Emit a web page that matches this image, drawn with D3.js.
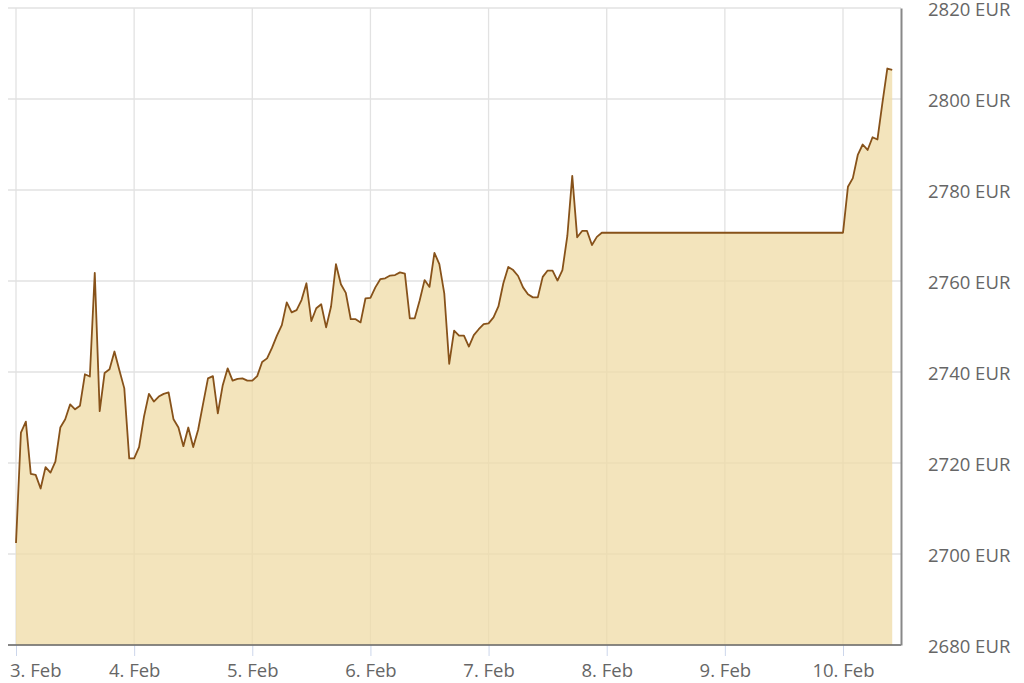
<!DOCTYPE html>
<html>
<head>
<meta charset="utf-8">
<script src="https://cdn.jsdelivr.net/npm/d3@7"></script>
<style>
  body { margin: 0; background: #fff; }
  svg { display: block; font-family: "Open Sans", sans-serif; }
</style>
</head>
<body>
<svg id="chart" width="1024" height="683"></svg>
<script>
// hours counted from 3 Feb 00:00, gold price in EUR
const hours = [
  0, 1, 2, 3, 4, 5, 6, 7, 8, 9, 10, 11, 12, 13, 14, 15, 16, 17, 18, 19, 20, 21, 22, 23,
  24, 25, 26, 27, 28, 29, 30, 31, 32, 33, 34, 35, 36, 37, 38, 39, 40, 41, 42, 43, 44, 45, 46, 47,
  48, 49, 50, 51, 52, 53, 54, 55, 56, 57, 58, 59, 60, 61, 62, 63, 64, 65, 66, 67, 68, 69, 70, 71,
  72, 73, 74, 75, 76, 77, 78, 79, 80, 81, 82, 83, 84, 85, 86, 87, 88, 89, 90, 91, 92, 93, 94, 95,
  96, 97, 98, 99, 100, 101, 102, 103, 104, 105, 106, 107, 108, 109, 110, 111, 112, 113, 114, 115, 116, 117, 118, 119,
  168, 169, 170, 171, 172, 173, 174, 175, 176, 177, 178
];
const prices = [
  2702.4, 2726.7, 2729.1, 2717.6, 2717.4, 2714.4, 2719.1, 2717.9, 2720.3, 2727.8, 2729.6, 2732.9,
  2731.8, 2732.6, 2739.5, 2739.0, 2761.8, 2731.4, 2739.8, 2740.6, 2744.5, 2740.4, 2736.4, 2721.0,
  2721.0, 2723.5, 2730.2, 2735.2, 2733.5, 2734.6, 2735.2, 2735.5, 2729.6, 2727.8, 2723.7, 2727.8,
  2723.5, 2727.3, 2733.0, 2738.6, 2739.1, 2730.9, 2737.1, 2740.8, 2738.1, 2738.5, 2738.6, 2738.1,
  2738.1, 2739.1, 2742.2, 2743.0, 2745.3, 2748.0, 2750.3, 2755.3, 2753.1, 2753.6, 2755.8, 2759.5,
  2751.2, 2754.0, 2754.9, 2749.8, 2754.4, 2763.7, 2759.3, 2757.4, 2751.6, 2751.6, 2750.9, 2756.2,
  2756.3, 2758.6, 2760.4, 2760.6, 2761.2, 2761.3, 2761.9, 2761.6, 2751.8, 2751.8, 2755.7, 2760.2,
  2758.7, 2766.2, 2763.7, 2757.3, 2741.8, 2749.1, 2748.0, 2748.0, 2745.6, 2748.1, 2749.4, 2750.5,
  2750.7, 2752.0, 2754.4, 2759.5, 2763.1, 2762.4, 2761.1, 2758.6, 2757.1, 2756.4, 2756.4, 2760.9,
  2762.3, 2762.3, 2760.1, 2762.4, 2769.9, 2783.1, 2769.6, 2771.0, 2771.0, 2767.9, 2769.7, 2770.6,
  2770.6, 2780.7, 2782.6, 2787.7, 2790.0, 2788.8, 2791.6, 2791.1, 2799.1, 2806.7, 2806.4
];
const yTicks = [2680, 2700, 2720, 2740, 2760, 2780, 2800, 2820];

const start = Date.UTC(2025, 1, 3);
const data = hours.map((h, i) => ({date: new Date(start + h * 3600e3), price: prices[i]}));

const plot = {left: 8, right: 901, top: 8, bottom: 645};

const svg = d3.select("#chart");

const x = d3.scaleUtc()
  .domain([new Date(start), new Date(Date.UTC(2025, 1, 10))])
  .range([16, 843]);

const y = d3.scaleLinear()
  .domain([2680, 2820])
  .range([plot.bottom, plot.top]);

const days = d3.utcDay.range(new Date(start), new Date(Date.UTC(2025, 1, 11)));

// grid
svg.append("g")
  .selectAll("line")
  .data(yTicks)
  .join("line")
  .attr("x1", plot.left)
  .attr("x2", plot.right)
  .attr("y1", d => y(d))
  .attr("y2", d => y(d))
  .attr("stroke", "#e2e2e2")
  .attr("stroke-width", 1.3);

svg.append("g")
  .selectAll("line")
  .data(days)
  .join("line")
  .attr("x1", d => x(d))
  .attr("x2", d => x(d))
  .attr("y1", plot.top)
  .attr("y2", plot.bottom)
  .attr("stroke", "#e2e2e2")
  .attr("stroke-width", 1.3);

// area + line
const area = d3.area()
  .x(d => x(d.date))
  .y0(y(2680))
  .y1(d => y(d.price));

const line = d3.line()
  .x(d => x(d.date))
  .y(d => y(d.price));

svg.append("path")
  .datum(data)
  .attr("d", area)
  .attr("fill", "#efdba6")
  .attr("fill-opacity", 0.75);

svg.append("path")
  .datum(data)
  .attr("d", line)
  .attr("fill", "none")
  .attr("stroke", "#87521a")
  .attr("stroke-width", 1.8)
  .attr("stroke-linejoin", "round");

// x axis
const xAxis = svg.append("g")
  .attr("transform", `translate(0, ${plot.bottom})`)
  .call(d3.axisBottom(x)
    .tickValues(days)
    .tickFormat(d3.utcFormat("%-d. %b"))
    .tickSize(11)
    .tickSizeOuter(0)
    .tickPadding(8));

xAxis.select(".domain").remove();
xAxis.selectAll(".tick line").attr("stroke", "#ccd6eb");
xAxis.selectAll(".tick text")
  .attr("fill", "#666")
  .attr("font-size", 18.5)
  .attr("font-family", "Open Sans, sans-serif");

// keep the first label inside the picture
xAxis.selectAll(".tick text").each(function() {
  const tick = this.parentNode.getAttribute("transform");
  const tx = +tick.match(/translate\(([-\d.]+)/)[1];
  const w = this.getComputedTextLength();
  if (tx - w / 2 < 10) d3.select(this).attr("x", 10 - tx + w / 2);
});

svg.append("line")
  .attr("x1", plot.left)
  .attr("x2", plot.right)
  .attr("y1", plot.bottom)
  .attr("y2", plot.bottom)
  .attr("stroke", "#666")
  .attr("stroke-width", 1.5);

// y axis on the right
const yAxis = svg.append("g")
  .attr("transform", `translate(${plot.right}, 0)`)
  .call(d3.axisRight(y)
    .tickValues(yTicks)
    .tickFormat(d => d + " EUR")
    .tickSize(0)
    .tickPadding(27));

yAxis.select(".domain")
  .attr("stroke", "#888")
  .attr("stroke-width", 2);
yAxis.selectAll(".tick text")
  .attr("fill", "#666")
  .attr("font-size", 18.5)
  .attr("font-family", "Open Sans, sans-serif")
  .attr("y", 2);
</script>
</body>
</html>
